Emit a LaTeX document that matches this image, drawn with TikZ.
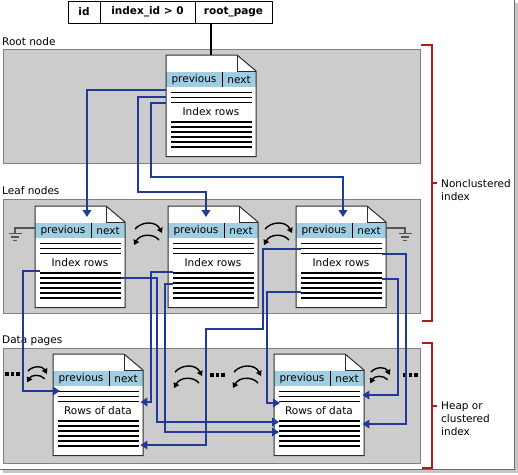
\documentclass[tikz,border=0pt]{standalone}
\usepackage{fontspec}
\setmainfont{DejaVu Sans}
\usetikzlibrary{arrows.meta,calc}
\definecolor{bandgray}{RGB}{204,204,204}
\definecolor{bandedge}{RGB}{128,128,128}
\definecolor{hdrblue}{RGB}{160,205,225}
\definecolor{connblue}{RGB}{32,58,150}
\definecolor{brred}{RGB}{170,30,30}
\definecolor{pgedge}{RGB}{45,45,45}
\definecolor{gndgray}{RGB}{85,85,85}
\newcommand\drawpage[4]{%
  \node[pgnode] (#1) at (#2,#3) {};
  \begin{scope}[shift={(#2,#3)}]
    \fill[white] (0,0) -- (71,0) -- (90,16) -- (90,101.5) -- (0,101.5) -- cycle;
    \fill[hdrblue] (0,17) rectangle (90,32);
    \draw[pgline] (0,0) -- (71,0) -- (90,16) -- (90,101.5) -- (0,101.5) -- cycle;
    \draw[pgline] (71,0) -- (71,16) -- (90,16);
    \draw[black, line width=1pt] (56,17) -- (56,32);
    \node[txt] (#1-prev) at (28,24.5) {previous};
    \node[txt] (#1-next) at (73,24.5) {next};
    \foreach \yy in {37.5,42.5,47.5,67,72,77,82,87,92} \draw[rowl] (5,\yy) -- (86,\yy);
    \node[txt] (#1-txt) at (45,57) {#4};
  \end{scope}}
\newcommand\swapar[3]{%
  \begin{scope}[shift={(#1,#2)},scale=#3]
    \draw[swp] (-13,-7) .. controls (-6,-15) and (8,-15) .. (14,-3);
    \draw[swp] (11,4) .. controls (5,-3) and (-8,-2) .. (-14,9);
  \end{scope}}
\newcommand\dotsrow[2]{%
  \foreach \dx in {2,7.5,13} \fill ($(#1,#2)+(\dx,0)+(-1.75,-1.75)$) rectangle +(3.5,3.5);}
\newcommand\gndsym[2]{%
  \draw[gnd] (#1-6.5,#2) -- (#1+6.5,#2);
  \draw[gnd] (#1-4,#2+3.5) -- (#1+4,#2+3.5);
  \draw[gnd] (#1-1.8,#2+7) -- (#1+1.8,#2+7);}
\begin{document}
\begin{tikzpicture}[x=1pt,y=-1pt,font=\fontsize{10.5}{13}\selectfont,
  band/.style={fill=bandgray, draw=bandedge, line width=1pt},
  pgnode/.style={anchor=north west, minimum width=90pt, minimum height=101.5pt, inner sep=0pt, draw=none},
  pgline/.style={draw=pgedge, line width=1pt, line join=miter},
  rowl/.style={draw=black, line width=1.8pt},
  txt/.style={inner sep=0pt},
  lbl/.style={inner sep=0pt, anchor=west},
  cell/.style={draw=black, line width=1pt, minimum height=22pt, inner sep=0pt, font=\fontsize{10.5}{13}\selectfont\bfseries},
  conn/.style={draw=connblue, line width=1.8pt, -{Triangle[length=7pt,width=8.5pt]}},
  swp/.style={draw=black, line width=1.4pt, -{Triangle[length=5pt,width=6pt]}},
  gnd/.style={draw=gndgray, line width=1.3pt},
  brk/.style={draw=brred, line width=1.5pt}]
\useasboundingbox (0,0) rectangle (518,474);
% frame
\draw[gray!45, line width=2.5pt] (516.5,3) -- (516.5,471.5) -- (3,471.5);
\draw[gray!85!black, line width=1pt] (514,0) -- (514,469) -- (0,469);
% bands
\draw[band] (3,49) rectangle (420,163);
\draw[band] (3,199) rectangle (420,313);
\draw[band] (3,348) rectangle (420,463);
\node[lbl] (lroot) at (2,42) {Root node};
\node[lbl] (lleaf) at (2,191) {Leaf nodes};
\node[lbl] (ldata) at (2,341) {Data pages};
% table
\node[cell, minimum width=32pt] (tid) at (84,12) {id};
\node[cell, minimum width=95pt] (tidx) at (147.5,12) {index\_id > 0};
\node[cell, minimum width=77pt] (troot) at (233.5,12) {root\_page};
% pages
\drawpage{root}{166}{55}{Index rows}
\drawpage{leafA}{35}{206}{Index rows}
\drawpage{leafB}{168}{206}{Index rows}
\drawpage{leafC}{296}{206}{Index rows}
\drawpage{dataA}{53}{354}{Rows of data}
\drawpage{dataB}{274}{354}{Rows of data}
\draw[black, line width=2pt] (troot.south -| root.north) -- (root.north);
% grounds
\draw[gnd] ($(leafA.north west)+(0,22)$) -- (15,228) -- (15,233.5);
\gndsym{15}{233.5}
\draw[gnd] ($(leafC.north east)+(0,22)$) -- (405,228) -- (405,233.5);
\gndsym{405}{233.5}
% swap arrows
\swapar{148}{236}{1}
\swapar{278}{236}{1}
\swapar{37}{376}{0.7}
\swapar{188}{379}{1}
\swapar{247}{379}{1}
\swapar{380}{377}{0.7}
\dotsrow{5}{374}
\dotsrow{210}{375}
\dotsrow{403}{375}
% connectors root -> leaves
\draw[conn] ($(root.north west)+(0,35)$) -| ($(leafA.north west)+(52,11)$);
\draw[conn] ($(root.north west)+(0,42)$) -| (138,192) -| ($(leafB.north west)+(38,11)$);
\draw[conn] ($(root.north west)+(0,48)$) -| (151,177) -| ($(leafC.north west)+(47,11)$);
% leaves -> data
\draw[conn] ($(leafA.north west)+(5,65)$) -| (23,391) -- ($(dataA.north west)+(7,37)$);
\draw[conn] ($(leafA.north east)+(-4,72)$) -| (157,422) -- ($(dataB.north west)+(5,68)$);
\draw[conn] ($(leafB.north west)+(5,66)$) -| (151,402) -- ($(dataA.north east)+(-3,48)$);
\draw[conn] ($(leafB.north west)+(5,78)$) -| (165,432) -- ($(dataB.north west)+(5,78)$);
\draw[conn] ($(leafC.north west)+(5,86)$) -| (267,403) -- ($(dataB.north west)+(6,49)$);
\draw[conn] ($(leafC.north west)+(5,43)$) -| (263,329) -| (206,445) -- ($(dataA.north east)+(-3,91)$);
\draw[conn] ($(leafC.north east)+(-4,48)$) -| (406,424) -- ($(dataB.north east)+(-2,70)$);
\draw[conn] ($(leafC.north east)+(-4,73)$) -| (398,395) -- ($(dataB.north east)+(-2,41)$);
% brackets
\draw[brk] (421,45) -- (432,45) -- (432,321) -- (422,321);
\draw[brk] (432,183) -- (437,183);
\draw[brk] (422,343) -- (432,343) -- (432,468) -- (422,468);
\draw[brk] (432,406) -- (437,406);
\node[lbl, align=left] (lnc) at (441,190.5) {Nonclustered\\index};
\node[lbl, align=left] (lheap) at (441,418.5) {Heap or\\clustered\\index};
\end{tikzpicture}
\end{document}
